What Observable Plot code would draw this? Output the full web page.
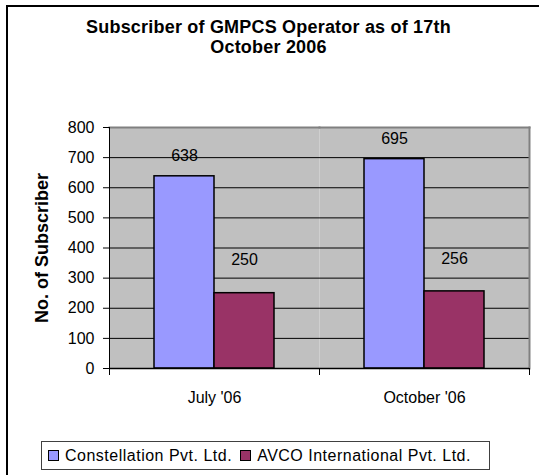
<!DOCTYPE html>
<html>
<head>
<meta charset="utf-8">
<script src="https://cdn.jsdelivr.net/npm/d3@7"></script>
<script src="https://cdn.jsdelivr.net/npm/@observablehq/plot@0.6"></script>
<style>
  html, body { margin: 0; padding: 0; background: #fff; overflow: hidden; }
  #wrap { position: relative; width: 539px; height: 475px; overflow: hidden; font-family: "Liberation Sans", Arial, sans-serif; }
  #frame { position: absolute; left: 6px; top: 5px; width: 560px; height: 500px; border: 2px solid #000; box-sizing: border-box; }
  #title { position: absolute; left: 6px; width: 525px; top: 17px; text-align: center; font-weight: bold; font-size: 18px; line-height: 20px; letter-spacing: 0.2px; color: #000; }
  #chart { position: absolute; left: 0; top: 0; }
  #legend { position: absolute; left: 41px; top: 441px; width: 449px; height: 29px; border: 1px solid #404040; box-sizing: border-box; display: flex; align-items: center; padding-left: 6px; font-size: 16px; letter-spacing: 0.5px; color: #000; background: #fff; white-space: nowrap; overflow: hidden; }
  .sw { display: inline-block; width: 9px; height: 9px; border: 1px solid #000; margin-right: 6px; flex-shrink: 0; }
  .item { display: flex; align-items: center; margin-right: 8px; flex-shrink: 0; white-space: nowrap; }
</style>
</head>
<body>
<div id="wrap">
  <div id="frame"></div>
  <div id="chart"></div>
  <div id="title"></div>
  <div id="legend"></div>
</div>
<script>
const titleLines = ["Subscriber of GMPCS Operator as of 17th", "October 2006"];
const categories = ["July '06", "October '06"];
const series = ["Constellation Pvt. Ltd.", "AVCO International Pvt. Ltd."];
const constellation = [638, 695];
const avco = [250, 256];
const yTicks = [0, 100, 200, 300, 400, 500, 600, 700, 800];
const yTitle = "No. of Subscriber";
const colors = ["#9999FF", "#993366"];

const rows = [];
categories.forEach((c, i) => {
  rows.push({cat: c, series: series[0], value: constellation[i]});
  rows.push({cat: c, series: series[1], value: avco[i]});
});

document.getElementById("title").innerHTML = titleLines.join("<br>");

const W = 539, H = 430, mT = 127, mB = 62, mL = 109, mR = 10;
const innerH = H - mT - mB;

const chart = Plot.plot({
  width: W, height: H,
  marginTop: mT, marginBottom: mB, marginLeft: mL, marginRight: mR,
  style: {fontFamily: "'Liberation Sans', Arial, sans-serif", fontSize: "16px", background: "transparent", color: "#000"},
  fx: {domain: categories, paddingInner: 0, paddingOuter: 0, label: null, axis: null},
  x: {domain: series, paddingInner: 0, paddingOuter: 0.75, axis: null},
  y: {domain: [0, 800], label: null},
  color: {domain: series, range: colors},
  marks: [
    Plot.frame({fill: "#C0C0C0"}),
    Plot.gridY(yTicks, {stroke: "#000", strokeOpacity: 1}),
    Plot.frame({anchor: "top", stroke: "#808080", strokeWidth: 2}),
    Plot.frame({anchor: "right", stroke: "#808080", strokeWidth: 2, facetAnchor: "right"}),
    Plot.frame({anchor: "left", stroke: "#000", facetAnchor: "left"}),
    Plot.frame({anchor: "left", stroke: "#000", insetTop: innerH, insetBottom: -6}),
    Plot.frame({anchor: "right", stroke: "#000", insetTop: innerH, insetBottom: -6, facetAnchor: "right"}),
    Plot.axisY({ticks: yTicks, tickSize: 6, tickPadding: 9, fontSize: 16, label: null, stroke: "#000"}),
    Plot.axisFx({anchor: "bottom", tickSize: 0, tickPadding: 23, fontSize: 16, label: null}),
    Plot.text([yTitle], {text: d => d, frameAnchor: "left", rotate: -90, dx: -67, textAnchor: "middle", fontWeight: "bold", fontSize: 18, facetAnchor: "left"}),
    Plot.barY(rows, {fx: "cat", x: "series", y: "value", fill: "series", stroke: "#000", strokeWidth: 1.5}),
    Plot.ruleY([0], {stroke: "#000", strokeWidth: 1.5}),
    Plot.text(rows, {filter: d => d.series === series[0], fx: "cat", x: "series", y: "value", text: d => String(d.value), dy: -20, fontSize: 16, fill: "#000"}),
    Plot.text(rows, {filter: d => d.series === series[1], fx: "cat", x: "series", y: "value", text: d => String(d.value), dy: -33, fontSize: 16, fill: "#000"})
  ]
});
document.getElementById("chart").appendChild(chart);

const legend = document.getElementById("legend");
series.forEach((s, i) => {
  const item = document.createElement("span");
  item.className = "item";
  const sw = document.createElement("span");
  sw.className = "sw";
  sw.style.background = colors[i];
  item.appendChild(sw);
  item.appendChild(document.createTextNode(s));
  legend.appendChild(item);
});
</script>
</body>
</html>
